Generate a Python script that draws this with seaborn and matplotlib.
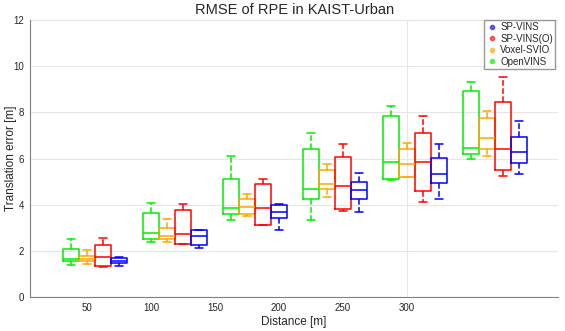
import numpy as np
import pandas as pd
import matplotlib
matplotlib.use("Agg")
import matplotlib.pyplot as plt
from matplotlib.lines import Line2D
import seaborn as sns

# -----------------------------
# Data: [min, q1, median, q3, max] per distance
# -----------------------------
distances = [50, 100, 150, 200, 250, 300]
methods = ["OpenVINS", "Voxel-SVIO", "SP-VINS(O)", "SP-VINS"]

openvins = [
    [1.39, 1.55, 1.65, 2.09, 2.53],
    [2.37, 2.52, 2.78, 3.64, 4.06],
    [3.33, 3.61, 3.84, 5.10, 6.11],
    [3.33, 4.27, 4.67, 6.43, 7.11],
    [5.06, 5.10, 5.85, 7.83, 8.29],
    [5.97, 6.19, 6.46, 8.91, 9.33],
]
voxel_svio = [
    [1.42, 1.55, 1.66, 1.80, 2.06],
    [2.39, 2.53, 2.67, 3.00, 3.39],
    [3.50, 3.61, 3.91, 4.26, 4.48],
    [4.33, 4.68, 4.88, 5.51, 5.77],
    [5.19, 5.22, 5.75, 6.40, 6.68],
    [6.11, 6.40, 6.87, 7.74, 8.04],
]
sp_vins_o = [
    [1.30, 1.33, 1.72, 2.27, 2.56],
    [2.29, 2.32, 2.74, 3.77, 4.04],
    [3.12, 3.14, 3.84, 4.91, 5.10],
    [3.75, 3.83, 4.81, 6.07, 6.65],
    [4.11, 4.59, 5.83, 7.11, 7.83],
    [5.24, 5.49, 6.42, 8.46, 9.52],
]
sp_vins = [
    [1.36, 1.48, 1.58, 1.70, 1.72],
    [2.14, 2.27, 2.64, 2.91, 2.93],
    [2.93, 3.43, 3.67, 4.00, 4.02],
    [3.68, 4.23, 4.65, 5.00, 5.37],
    [4.26, 4.96, 5.32, 6.04, 6.61],
    [5.32, 5.80, 6.29, 6.94, 7.63],
]

colors = {"OpenVINS": "#00ee00", "Voxel-SVIO": "#ffa500",
          "SP-VINS(O)": "#ff0000", "SP-VINS": "#0000ff"}

# build a long table: boxes of a group sit side by side, groups 5 slots apart
series = {"OpenVINS": openvins, "Voxel-SVIO": voxel_svio,
          "SP-VINS(O)": sp_vins_o, "SP-VINS": sp_vins}
rows = []
for gi, d in enumerate(distances):
    for mi, m in enumerate(methods):
        for v in series[m][gi]:
            rows.append({"pos": gi * 5 + mi + 1, "method": m, "value": v})
df = pd.DataFrame(rows)

# -----------------------------
# Plot
# -----------------------------
sns.set_style("white")
plt.rcParams["font.family"] = ["Liberation Sans", "DejaVu Sans"]

fig = plt.figure(figsize=(5.65, 3.31), dpi=100)
ax = fig.add_axes([0.053, 0.102, 0.935, 0.838])

sns.boxplot(data=df, x="pos", y="value", hue="method", palette=colors,
            native_scale=True, dodge=False, width=1.0, fill=False,
            whis=np.inf, linewidth=1.1, legend=False, ax=ax,
            whiskerprops={"linestyle": "--"})

ax.set_xlim(-1.56, 31.44)
ax.set_ylim(0, 12)
ax.set_yticks(range(0, 13, 2))
ax.set_xticks([2, 6, 10, 14, 18, 22])
ax.set_xticklabels([str(d) for d in distances])
ax.yaxis.grid(True, color="#e6e6e6", linewidth=0.8)
ax.axvline(22, color="#e6e6e6", linewidth=0.8, zorder=0)
ax.set_axisbelow(True)

for side in ["top", "right"]:
    ax.spines[side].set_visible(False)
for side in ["left", "bottom"]:
    ax.spines[side].set_color("#808080")
    ax.spines[side].set_linewidth(0.8)
ax.tick_params(axis="both", labelsize=7, length=2, pad=2, color="#808080",
               labelcolor="#262626")

ax.set_title("RMSE of RPE in KAIST-Urban", fontsize=10.5, pad=4)
ax.set_xlabel("Distance [m]", fontsize=8.5, labelpad=2)
ax.set_ylabel("Translation error [m]", fontsize=8.5)
ax.yaxis.set_label_coords(-0.024, 0.5)

legend_order = ["SP-VINS", "SP-VINS(O)", "Voxel-SVIO", "OpenVINS"]
handles = [Line2D([], [], linestyle="none", marker="o", markersize=3,
                  markerfacecolor=colors[m], markeredgecolor=colors[m],
                  alpha=0.6, label=m) for m in legend_order]
ax.legend(handles=handles, loc="upper right", bbox_to_anchor=(1.0, 1.01),
          fontsize=7, frameon=True, fancybox=False, edgecolor="#808080",
          handletextpad=0.2, borderpad=0.25, labelspacing=0.15,
          handlelength=1.2, borderaxespad=0.3)

plt.savefig("out.png", dpi=100)
